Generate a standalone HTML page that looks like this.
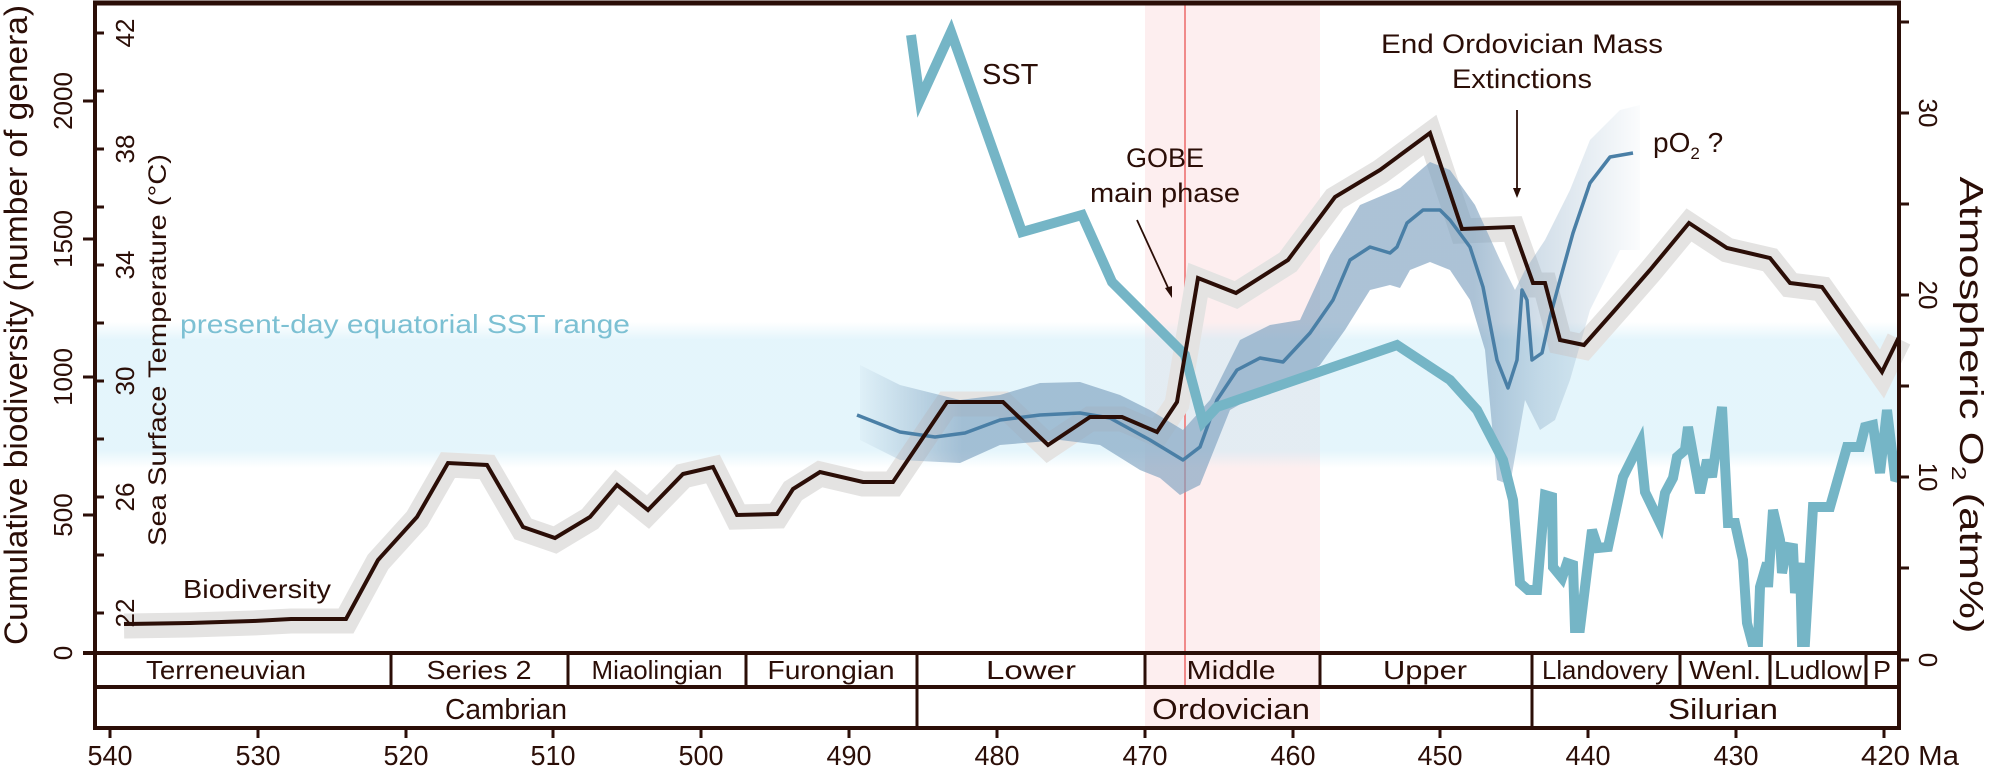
<!DOCTYPE html>
<html><head><meta charset="utf-8"><style>
html,body{margin:0;padding:0;background:#fff}
svg{display:block}
text{font-family:"Liberation Sans",Arial,sans-serif;fill:#2b0e07}
</style></head><body>
<svg width="1989" height="770" viewBox="0 0 1989 770" xmlns="http://www.w3.org/2000/svg">
<defs>
<linearGradient id="sstband" x1="0" y1="0" x2="0" y2="1">
<stop offset="0" stop-color="#c4e9f7" stop-opacity="0"/>
<stop offset="0.12" stop-color="#c4e9f7" stop-opacity="0.45"/>
<stop offset="0.88" stop-color="#c4e9f7" stop-opacity="0.45"/>
<stop offset="1" stop-color="#c4e9f7" stop-opacity="0"/>
</linearGradient>
<linearGradient id="o2band" gradientUnits="userSpaceOnUse" x1="850" y1="0" x2="1650" y2="0">
<stop offset="0" stop-color="#7fa2c0" stop-opacity="0"/>
<stop offset="0.14" stop-color="#7fa2c0" stop-opacity="0.65"/>
<stop offset="0.78" stop-color="#7fa2c0" stop-opacity="0.65"/>
<stop offset="0.86" stop-color="#7fa2c0" stop-opacity="0.35"/>
<stop offset="1" stop-color="#7fa2c0" stop-opacity="0"/>
</linearGradient>
</defs>

<rect x="1145" y="4" width="175" height="724" fill="#fdeeef"/>
<rect x="95" y="322" width="1804" height="146" fill="url(#sstband)"/>
<text x="180" y="333" font-size="26" textLength="450" lengthAdjust="spacingAndGlyphs" style="fill:#7cc0d3">present-day equatorial SST range</text>
<line x1="1185" y1="4" x2="1185" y2="687" stroke="#f08a8a" stroke-width="2"/>

<polyline transform="translate(0,2)" fill="none" stroke="#e4e3e2" stroke-width="25" stroke-linejoin="miter" stroke-miterlimit="3"
points="124,624 190,623 253,621 291,619 346,619 378,560 417,517 448,463 487,465 523,527 555,538 590,517 617,485 648,510 683,474 713,467 737,515 777,514 793,489 820,472 863,482 893,482 947,402 1003,402 1048,445 1090,417 1122,417 1157,432 1177,402 1198,278 1236,293 1288,260 1335,197 1380,170 1430,133 1462,229 1513,227 1533,283 1545,283 1560,340 1584,345 1615,310 1650,270 1689,223 1727,248 1770,258 1790,283 1822,287 1882,372 1899,337"/>

<polygon fill="url(#o2band)" points="860,365 900,385 960,400 1000,395 1040,383 1080,382 1120,395 1150,410 1183,430 1210,400 1240,340 1270,325 1300,320 1330,255 1360,205 1400,188 1430,162 1450,170 1475,205 1500,260 1515,290 1525,270 1545,240 1570,190 1590,140 1620,110 1640,105 1640,250 1620,250 1590,310 1570,380 1555,420 1540,430 1525,400 1510,485 1497,480 1485,350 1470,300 1450,270 1430,262 1410,270 1400,288 1390,285 1370,290 1345,330 1320,365 1290,385 1260,393 1230,410 1200,485 1180,495 1160,478 1140,470 1100,445 1060,440 1000,445 960,463 900,460 860,440"/>
<polyline fill="none" stroke="#4a7fa6" stroke-width="3.5" stroke-linejoin="round"
points="857,415 900,432 935,437 965,433 1000,420 1040,415 1080,413 1110,418 1150,440 1183,460 1200,447 1217,400 1237,370 1260,358 1283,362 1310,333 1333,300 1350,260 1370,247 1390,253 1397,247 1407,223 1423,210 1440,210 1450,220 1470,247 1483,287 1497,360 1508,388 1517,360 1522,290 1527,300 1532,360 1542,353 1550,317 1560,280 1573,233 1590,183 1610,157 1633,153"/>

<polyline fill="none" stroke="#75b5c6" stroke-width="10" stroke-linejoin="miter" stroke-miterlimit="4"
points="911,35 920,100 951,32 1022,232 1082,215 1112,282 1185,355 1203,422 1217,407 1397,345 1450,380 1477,410 1503,460 1513,500 1520,583 1528,590 1537,590 1545,495 1552,497 1553,567 1562,578 1567,563 1573,565 1575,628 1580,628 1592,530 1598,548 1608,547 1623,477 1640,443 1645,492 1660,523 1665,493 1673,478 1677,457 1685,450 1688,427 1700,493 1707,460 1712,477 1722,407 1728,523 1735,523 1743,560 1747,623 1752,642 1758,642 1760,587 1767,563 1768,587 1773,510 1780,540 1782,573 1787,547 1793,548 1795,593 1800,563 1802,642 1805,642 1813,507 1830,507 1847,447 1860,447 1865,427 1873,425 1880,473 1887,410 1895,477 1899,478"/>

<polyline fill="none" stroke="#2b0e07" stroke-width="4" stroke-linejoin="miter"
points="124,624 190,623 253,621 291,619 346,619 378,560 417,517 448,463 487,465 523,527 555,538 590,517 617,485 648,510 683,474 713,467 737,515 777,514 793,489 820,472 863,482 893,482 947,402 1003,402 1048,445 1090,417 1122,417 1157,432 1177,402 1198,278 1236,293 1288,260 1335,197 1380,170 1430,133 1462,229 1513,227 1533,283 1545,283 1560,340 1584,345 1615,310 1650,270 1689,223 1727,248 1770,258 1790,283 1822,287 1882,372 1899,337"/>

<g stroke="#2b0e07" fill="none">
<line x1="93" y1="3" x2="1901" y2="3" stroke-width="5"/>
<line x1="95" y1="1" x2="95" y2="730" stroke-width="4"/>
<line x1="1899" y1="1" x2="1899" y2="730" stroke-width="4"/>
<line x1="83" y1="653" x2="1901" y2="653" stroke-width="4"/>
<line x1="95" y1="687" x2="1899" y2="687" stroke-width="4"/>
<line x1="93" y1="728" x2="1901" y2="728" stroke-width="4"/>
<g stroke-width="3">
<line x1="391" y1="653" x2="391" y2="687"/><line x1="568" y1="653" x2="568" y2="687"/>
<line x1="746" y1="653" x2="746" y2="687"/><line x1="917" y1="653" x2="917" y2="728"/>
<line x1="1145" y1="653" x2="1145" y2="687"/><line x1="1320" y1="653" x2="1320" y2="687"/>
<line x1="1532" y1="653" x2="1532" y2="728"/><line x1="1680" y1="653" x2="1680" y2="687"/>
<line x1="1770" y1="653" x2="1770" y2="687"/><line x1="1866" y1="653" x2="1866" y2="687"/>
</g>
<g stroke-width="3">
<line x1="83" y1="515" x2="95" y2="515"/><line x1="83" y1="377" x2="95" y2="377"/>
<line x1="83" y1="239" x2="95" y2="239"/><line x1="83" y1="101" x2="95" y2="101"/>
<line x1="95" y1="613" x2="104" y2="613"/><line x1="95" y1="555" x2="104" y2="555"/>
<line x1="95" y1="497" x2="104" y2="497"/><line x1="95" y1="439" x2="104" y2="439"/>
<line x1="95" y1="381" x2="104" y2="381"/><line x1="95" y1="323" x2="104" y2="323"/>
<line x1="95" y1="265" x2="104" y2="265"/><line x1="95" y1="207" x2="104" y2="207"/>
<line x1="95" y1="149" x2="104" y2="149"/><line x1="95" y1="91" x2="104" y2="91"/>
<line x1="95" y1="33" x2="104" y2="33"/>
<line x1="1899" y1="660" x2="1909" y2="660"/><line x1="1899" y1="568" x2="1909" y2="568"/>
<line x1="1899" y1="477" x2="1909" y2="477"/><line x1="1899" y1="386" x2="1909" y2="386"/>
<line x1="1899" y1="295" x2="1909" y2="295"/><line x1="1899" y1="204" x2="1909" y2="204"/>
<line x1="1899" y1="113" x2="1909" y2="113"/><line x1="1899" y1="22" x2="1909" y2="22"/>
<line x1="110" y1="728" x2="110" y2="738"/><line x1="258" y1="728" x2="258" y2="738"/>
<line x1="406" y1="728" x2="406" y2="738"/><line x1="553" y1="728" x2="553" y2="738"/>
<line x1="701" y1="728" x2="701" y2="738"/><line x1="849" y1="728" x2="849" y2="738"/>
<line x1="997" y1="728" x2="997" y2="738"/><line x1="1145" y1="728" x2="1145" y2="738"/>
<line x1="1293" y1="728" x2="1293" y2="738"/><line x1="1440" y1="728" x2="1440" y2="738"/>
<line x1="1588" y1="728" x2="1588" y2="738"/><line x1="1736" y1="728" x2="1736" y2="738"/>
<line x1="1884" y1="728" x2="1884" y2="738"/>
</g>
<line x1="1137" y1="220" x2="1170" y2="292" stroke-width="1.8"/>
<line x1="1517" y1="110" x2="1517" y2="190" stroke-width="1.8"/>
</g>
<polygon points="1172,298 1165,288 1172,286" fill="#2b0e07"/>
<polygon points="1517,198 1513,188 1521,188" fill="#2b0e07"/>

<text transform="translate(27,325) rotate(-90)" text-anchor="middle" font-size="32" textLength="640" lengthAdjust="spacingAndGlyphs">Cumulative biodiversity (number of genera)</text>
<text transform="translate(166,350) rotate(-90)" text-anchor="middle" font-size="25" textLength="392" lengthAdjust="spacingAndGlyphs">Sea Surface Temperature (°C)</text>
<text transform="translate(1960,405) rotate(90)" text-anchor="middle" font-size="33" textLength="457" lengthAdjust="spacingAndGlyphs">Atmospheric O<tspan font-size="20" dy="8">2</tspan><tspan dy="-8"> (atm%)</tspan></text>

<g font-size="26" text-anchor="middle">
<text transform="translate(72,653) rotate(-90)">0</text>
<text transform="translate(72,515) rotate(-90)">500</text>
<text transform="translate(72,377) rotate(-90)">1000</text>
<text transform="translate(72,239) rotate(-90)">1500</text>
<text transform="translate(72,101) rotate(-90)">2000</text>
<text transform="translate(134,613) rotate(-90)">22</text>
<text transform="translate(134,497) rotate(-90)">26</text>
<text transform="translate(134,381) rotate(-90)">30</text>
<text transform="translate(134,265) rotate(-90)">34</text>
<text transform="translate(134,149) rotate(-90)">38</text>
<text transform="translate(134,33) rotate(-90)">42</text>
<text transform="translate(1919,660) rotate(90)">0</text>
<text transform="translate(1919,477) rotate(90)">10</text>
<text transform="translate(1919,295) rotate(90)">20</text>
<text transform="translate(1919,113) rotate(90)">30</text>
</g>

<g font-size="28" text-anchor="middle">
<text x="110" y="765" textLength="45" lengthAdjust="spacingAndGlyphs">540</text>
<text x="258" y="765" textLength="45" lengthAdjust="spacingAndGlyphs">530</text>
<text x="406" y="765" textLength="45" lengthAdjust="spacingAndGlyphs">520</text>
<text x="553" y="765" textLength="45" lengthAdjust="spacingAndGlyphs">510</text>
<text x="701" y="765" textLength="45" lengthAdjust="spacingAndGlyphs">500</text>
<text x="849" y="765" textLength="45" lengthAdjust="spacingAndGlyphs">490</text>
<text x="997" y="765" textLength="45" lengthAdjust="spacingAndGlyphs">480</text>
<text x="1145" y="765" textLength="45" lengthAdjust="spacingAndGlyphs">470</text>
<text x="1293" y="765" textLength="45" lengthAdjust="spacingAndGlyphs">460</text>
<text x="1440" y="765" textLength="45" lengthAdjust="spacingAndGlyphs">450</text>
<text x="1588" y="765" textLength="45" lengthAdjust="spacingAndGlyphs">440</text>
<text x="1736" y="765" textLength="45" lengthAdjust="spacingAndGlyphs">430</text>
</g>
<text x="1861" y="765" font-size="28" textLength="98" lengthAdjust="spacingAndGlyphs">420 Ma</text>

<g font-size="26" text-anchor="middle">
<text x="226" y="679" textLength="160" lengthAdjust="spacingAndGlyphs">Terreneuvian</text>
<text x="479" y="679" textLength="105" lengthAdjust="spacingAndGlyphs">Series 2</text>
<text x="657" y="679" textLength="131" lengthAdjust="spacingAndGlyphs">Miaolingian</text>
<text x="831" y="679" textLength="127" lengthAdjust="spacingAndGlyphs">Furongian</text>
<text x="1031" y="679" textLength="90" lengthAdjust="spacingAndGlyphs">Lower</text>
<text x="1231" y="679" textLength="89" lengthAdjust="spacingAndGlyphs">Middle</text>
<text x="1425" y="679" textLength="84" lengthAdjust="spacingAndGlyphs">Upper</text>
<text x="1605" y="679" textLength="126" lengthAdjust="spacingAndGlyphs">Llandovery</text>
<text x="1725" y="679" textLength="72" lengthAdjust="spacingAndGlyphs">Wenl.</text>
<text x="1818" y="679" textLength="88" lengthAdjust="spacingAndGlyphs">Ludlow</text>
<text x="1882" y="679" textLength="18" lengthAdjust="spacingAndGlyphs">P</text>
</g>
<g font-size="29" text-anchor="middle">
<text x="506" y="719" textLength="122" lengthAdjust="spacingAndGlyphs">Cambrian</text>
<text x="1231" y="719" textLength="158" lengthAdjust="spacingAndGlyphs">Ordovician</text>
<text x="1723" y="719" textLength="110" lengthAdjust="spacingAndGlyphs">Silurian</text>
</g>

<text x="183" y="598" font-size="26" textLength="148" lengthAdjust="spacingAndGlyphs">Biodiversity</text>
<text x="982" y="84" font-size="29">SST</text>
<text x="1165" y="167" font-size="27" text-anchor="middle">GOBE</text>
<text x="1165" y="202" font-size="27" text-anchor="middle" textLength="150" lengthAdjust="spacingAndGlyphs">main phase</text>
<text x="1522" y="53" font-size="27" text-anchor="middle" textLength="282" lengthAdjust="spacingAndGlyphs">End Ordovician Mass</text>
<text x="1522" y="88" font-size="27" text-anchor="middle" textLength="140" lengthAdjust="spacingAndGlyphs">Extinctions</text>
<text x="1653" y="152" font-size="28">pO<tspan font-size="17" dy="7">2</tspan><tspan dy="-7"> ?</tspan></text>
</svg>
</body></html>
